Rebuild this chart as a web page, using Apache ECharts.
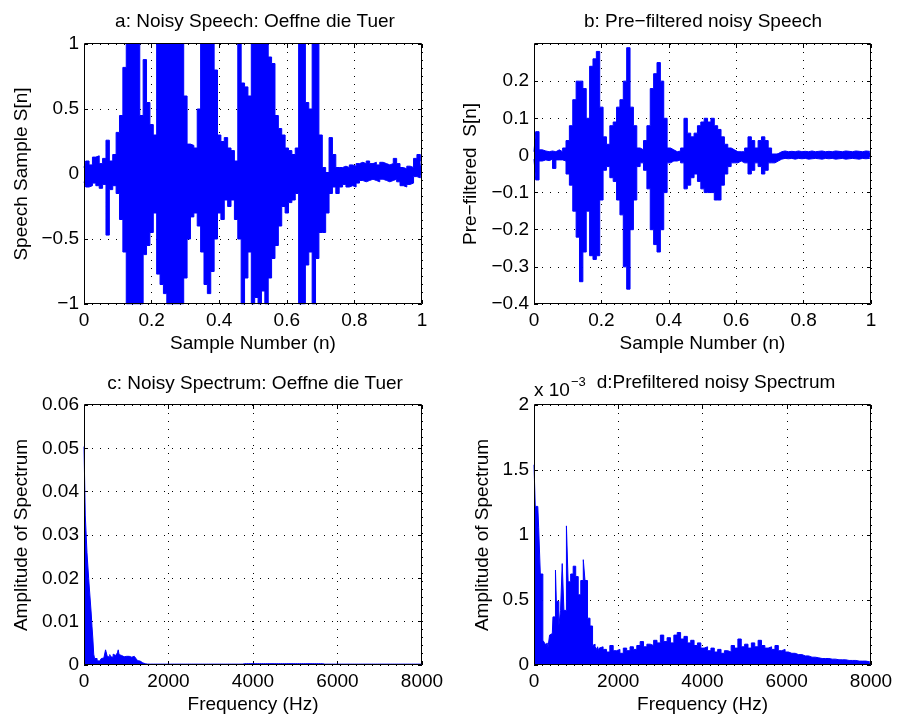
<!DOCTYPE html>
<html>
<head>
<meta charset="utf-8">
<script src="https://cdn.jsdelivr.net/npm/echarts@6/dist/echarts.min.js"></script>
<style>html,body{margin:0;padding:0;background:#fff}#c{width:897px;height:720px}</style>
</head>
<body>
<div id="c"></div>
<script>
// ---------- DATA ----------
// Panel a: noisy speech, upper / lower extremes per 0.01 of normalised sample number (0..1)
const speechA_hi = [0.05,0.10,0.07,0.13,0.14,0.08,0.12,0.26,0.10,0.15,
  0.32,0.45,0.82,1,1,1,1,0.45,0.88,0.55,
  0.38,0.30,1,1,1,1,1,1,1,1,
  0.6,0.23,0.22,0.2,0.5,1,1,1,1,0.8,
  0.3,0.25,0.28,0.2,0.18,0.1,1,0.7,0.67,0.6,
  1,1,1,1,1,0.9,0.85,0.45,0.35,0.3,
  0.2,0.18,0.15,0.2,1,1,0.55,0.5,1,1,
  0.3,0.05,0.0,0.28,0.15,0.05,0.05,0.06,0.05,0.07,
  0.06,0.08,0.09,0.08,0.1,0.08,0.09,0.07,0.09,0.08,
  0.07,0.08,0.12,0.08,0.05,0.04,0.06,0.05,0.12,0.15,
  0.1];
const speechA_lo = [-0.06,-0.10,-0.09,-0.07,-0.09,-0.11,-0.08,-0.47,-0.12,-0.09,
  -0.15,-0.35,-0.6,-1,-1,-1,-1,-1,-0.62,-0.55,
  -0.45,-0.3,-0.77,-0.85,-0.92,-1,-1,-1,-1,-1,
  -0.8,-0.5,-0.33,-0.3,-0.4,-0.6,-0.85,-0.92,-0.75,-0.5,
  -0.3,-0.35,-0.2,-0.25,-0.2,-0.35,-0.5,-1,-0.8,-0.6,
  -1,-0.95,-1,-0.9,-1,-0.8,-0.65,-0.55,-0.4,-0.25,
  -0.3,-0.22,-0.2,-0.15,-1,-1,-0.7,-0.6,-1,-0.65,
  -0.45,-0.45,-0.3,-0.15,-0.1,-0.15,-0.1,-0.08,-0.1,-0.09,
  -0.1,-0.07,-0.05,-0.06,-0.05,-0.04,-0.05,-0.06,-0.04,-0.05,
  -0.06,-0.05,-0.04,-0.06,-0.09,-0.1,-0.08,-0.07,-0.02,-0.03,
  0.0];
// Panel b: pre-filtered speech, upper / lower extremes per 0.01
const speechB_hi = [0.01,0.064,0.015,0.012,0.01,0.012,0.01,0.015,0.01,0.02,
  0.04,0.08,0.15,0.2,0.2,0.18,0.1,0.24,0.26,0.28,
  0.13,0.05,0.03,0.08,0.09,0.13,0.15,0.2,0.29,0.13,
  0.08,0.02,0.015,0.04,0.08,0.18,0.22,0.25,0.2,0.1,
  0.02,0.015,0.01,0.012,0.02,0.1,0.06,0.05,0.06,0.08,
  0.09,0.1,0.09,0.1,0.08,0.07,0.05,0.03,0.02,0.015,
  0.01,0.01,0.01,0.02,0.05,0.04,0.02,0.04,0.05,0.04,
  0.02,0.0,0.005,0.01,0.012,0.01,0.011,0.01,0.012,0.01,
  0.011,0.01,0.012,0.01,0.011,0.012,0.01,0.011,0.01,0.012,
  0.011,0.01,0.012,0.011,0.01,0.012,0.011,0.01,0.012,0.011,
  0.01];
const speechB_lo = [-0.01,-0.066,-0.015,-0.012,-0.014,-0.01,-0.035,-0.012,-0.012,-0.015,
  -0.05,-0.08,-0.15,-0.22,-0.34,-0.26,-0.15,-0.27,-0.28,-0.27,
  -0.12,-0.04,-0.03,-0.06,-0.07,-0.12,-0.16,-0.3,-0.36,-0.2,
  -0.12,-0.03,-0.02,-0.04,-0.09,-0.2,-0.24,-0.26,-0.2,-0.1,
  -0.02,-0.015,-0.015,-0.012,-0.02,-0.09,-0.08,-0.06,-0.05,-0.07,
  -0.09,-0.1,-0.1,-0.1,-0.12,-0.12,-0.08,-0.05,-0.03,-0.02,
  -0.02,-0.015,-0.02,-0.02,-0.05,-0.04,-0.02,-0.03,-0.05,-0.04,
  -0.02,-0.02,-0.015,-0.01,-0.008,-0.009,-0.008,-0.01,-0.008,-0.009,
  -0.008,-0.01,-0.009,-0.008,-0.009,-0.01,-0.008,-0.009,-0.008,-0.01,
  -0.009,-0.008,-0.01,-0.009,-0.008,-0.009,-0.01,-0.008,-0.009,-0.008,
  -0.008];
// Panel c: noisy spectrum amplitude; 0..1600 Hz every 20 Hz, then 1700..8000 Hz every 100 Hz
const specC_lowF = [0.0504,0.0504,0.0346,0.0346,0.026,0.026,0.020,0.0173,0.0173,0.012,
  0.0088,0.006,0.0025,0.0015,0.0012,0.0015,0.0010,0.0012,0.0009,0.0013,
  0.0011,0.0015,0.0012,0.0016,0.0014,0.0018,0.0035,0.0032,0.0020,0.0022,
  0.0018,0.0024,0.0019,0.0021,0.0018,0.0025,0.0028,0.0022,0.0019,0.0021,
  0.0028,0.0035,0.0024,0.0020,0.0022,0.0021,0.0023,0.0019,0.0022,0.0021,
  0.0020,0.0022,0.0018,0.0020,0.0019,0.0017,0.0018,0.0016,0.0019,0.0020,
  0.0018,0.0017,0.0015,0.0012,0.0010,0.0010,0.0009,0.0008,0.0006,0.0005,
  0.0004,0.0003,0.0003,0.0002,0.0002,0.0002,0.0002,0.0002,0.0002,0.0002,
  0.0002];
const specC_highF = [0.0002,0.0002,0.0002,0.0002,0.0002,0.0002,0.0002,0.0002,0.0002,0.0002,
  0.0002,0.0002,0.0002,0.0002,0.0002,0.0002,0.0002,0.0002,0.0002,0.0002,
  0.0002,0.0003,0.0003,0.0003,0.0003,0.0003,0.0003,0.0003,0.0003,0.0003,
  0.0003,0.0003,0.0003,0.0003,0.0003,0.0003,0.0003,0.0003,0.0003,0.0003,
  0.0002,0.0002,0.0002,0.0002,0.0002,0.0002,0.0002,0.0002,0.0002,0.0002,
  0.0002,0.0002,0.0002,0.0002,0.0002,0.0002,0.0002,0.0002,0.0002,0.0002,
  0.0002,0.0002,0.0002,0.0002];
// Panel d: pre-filtered spectrum amplitude in units of 1e-3; 0..1600 Hz every 20 Hz, 1680..8000 Hz every 80 Hz
const specD_lowF = [1.54,1.54,1.22,1.22,1.22,1.22,1.06,1.06,0.70,0.70,
  0.70,0.19,0.19,0.17,0.17,0.15,0.17,0.13,0.13,0.23,
  0.22,0.24,0.20,0.37,0.37,0.37,0.73,0.49,0.49,0.49,
  0.30,0.30,0.42,0.42,0.78,0.78,0.42,0.42,0.42,1.07,
  1.07,0.64,0.64,0.64,0.70,0.70,0.70,0.76,0.76,0.76,
  0.68,0.68,0.68,0.54,0.54,0.54,0.65,0.65,0.65,0.81,
  0.81,0.65,0.65,0.65,0.36,0.36,0.36,0.30,0.30,0.30,
  0.15,0.15,0.16,0.14,0.15,0.12,0.14,0.11,0.13,0.12,
  0.14];
const specD_highF = [0.12,0.10,0.15,0.11,
  0.12,0.09,0.13,0.11,0.14,0.12,0.15,0.18,0.14,0.16,0.15,0.19,0.17,
  0.23,0.18,0.21,0.17,0.23,0.25,0.20,0.22,0.17,0.19,0.15,0.17,
  0.13,0.14,0.11,0.13,0.10,0.12,0.09,0.11,0.10,0.15,0.13,0.20,0.14,
  0.16,0.13,0.17,0.14,0.19,0.15,0.13,0.14,0.12,0.15,0.11,0.12,
  0.10,0.09,0.09,0.08,0.08,0.07,0.07,0.06,0.06,0.055,0.05,0.05,0.05,
  0.045,0.045,0.04,0.04,0.04,0.035,0.035,0.035,0.03,0.03,0.03,0.025,
  0.025];
// Tick values
const sampleTicks = [0,0.2,0.4,0.6,0.8,1];
const freqTicks = [0,2000,4000,6000,8000];

// ---------- BUILD ----------
const FONT = 'Liberation Sans, Helvetica, Arial, sans-serif';
const FS = 19;
const BLUE = '#0000ff';

function indexed(arr) {
  const n = arr.length, dx = 1 / (n - 1);
  return arr.map((v, i) => [i * dx, v]);
}
function spectrum(low, lowStep, high, highStart, highStep) {
  const out = [];
  low.forEach((v, i) => out.push([i * lowStep, v]));
  high.forEach((v, i) => out.push([highStart + i * highStep, v]));
  return out;
}
function fmt(v) {
  const a = +Math.abs(v).toFixed(4);
  return (v < 0 ? '\u2212' : '') + a;
}

const boxes = [
  {left: 84, top: 44, width: 338, height: 260},
  {left: 534, top: 44, width: 337, height: 260},
  {left: 84, top: 405, width: 338, height: 260},
  {left: 534, top: 405, width: 337, height: 260}
];
const grids = boxes.map(g => Object.assign({}, g, {show: false, containLabel: false}));

const dotted = {show: true, lineStyle: {color: '#000', width: 1, type: [1, 7]}};
const txt = {color: '#000', fontFamily: FONT, fontSize: FS};
const tick = {show: true, inside: true, length: 4, lineStyle: {color: '#000'}};
const noLine = {show: false, onZero: false};

function xPair(gi, min, max, interval, name, nameGap) {
  return [
    {type: 'value', gridIndex: gi, min, max, interval, position: 'bottom',
     name, nameLocation: 'middle', nameGap, nameTextStyle: txt,
     axisLine: noLine, axisTick: tick,
     axisLabel: Object.assign({margin: 7, formatter: fmt, showMinLabel: true, showMaxLabel: true}, txt),
     splitLine: dotted},
    {type: 'value', gridIndex: gi, min, max, interval, position: 'top',
     axisLine: noLine, axisLabel: {show: false}, splitLine: {show: false}, axisTick: tick}
  ];
}
function yPair(gi, min, max, interval, name, nameGap, labelFmt) {
  return [
    {type: 'value', gridIndex: gi, min, max, interval, position: 'left',
     name, nameLocation: 'middle', nameGap, nameTextStyle: txt,
     axisLine: noLine, axisTick: tick,
     axisLabel: Object.assign({margin: 5, formatter: labelFmt || fmt, showMinLabel: true, showMaxLabel: true}, txt),
     splitLine: dotted},
    {type: 'value', gridIndex: gi, min, max, interval, position: 'right',
     axisLine: noLine, axisLabel: {show: false}, splitLine: {show: false}, axisTick: tick}
  ];
}

const xAxes = [].concat(
  xPair(0, sampleTicks[0], sampleTicks[sampleTicks.length - 1], 0.2, 'Sample Number (n)', 30),
  xPair(1, sampleTicks[0], sampleTicks[sampleTicks.length - 1], 0.2, 'Sample Number (n)', 30),
  xPair(2, freqTicks[0], freqTicks[freqTicks.length - 1], 2000, 'Frequency (Hz)', 30),
  xPair(3, freqTicks[0], freqTicks[freqTicks.length - 1], 2000, 'Frequency (Hz)', 30)
);
const yAxes = [].concat(
  yPair(0, -1, 1, 0.5, 'Speech Sample S[n]', 53),
  yPair(1, -0.4, 0.3, 0.1, 'Pre\u2212filtered  S[n]', 54, v => (Math.abs(v - 0.3) < 1e-9 ? '' : fmt(v))),
  yPair(2, 0, 0.06, 0.01, 'Amplitude of Spectrum', 53),
  yPair(3, 0, 2, 0.5, 'Amplitude of Spectrum', 42)
);

const base = {type: 'line', symbol: 'none', clip: true, animation: false, silent: true, z: 3};
// upper envelope filled down to 0, lower envelope filled up to slightly above 0 (overlap hides the seam)
const envelope = (k, data, origin, extra) => Object.assign({}, base, {
  xAxisIndex: 2 * k, yAxisIndex: 2 * k, data,
  lineStyle: {color: BLUE, width: 1},
  areaStyle: {color: BLUE, opacity: 1, origin}
}, extra || {});

const series = [
  envelope(0, indexed(speechA_hi), 0, {step: 'middle'}),
  envelope(0, indexed(speechA_lo), 0.015, {step: 'middle'}),
  envelope(1, indexed(speechB_hi), 0, {step: 'middle'}),
  envelope(1, indexed(speechB_lo), 0.005, {step: 'middle'}),
  envelope(2, spectrum(specC_lowF, 20, specC_highF, 1700, 100), 0, {step: 'middle'}),
  envelope(3, spectrum(specD_lowF, 20, specD_highF, 1680, 80), 0, {step: 'middle'})
];

const T = (text, x, y, extra) => ({type: 'text', x, y, z: 20, style: Object.assign({
  text, fill: '#000', font: FS + 'px ' + FONT, textAlign: 'center', textVerticalAlign: 'middle'}, extra || {})});

const frames = boxes.map(b => ({type: 'rect', z: 20, silent: true,
  shape: {x: b.left + 0.5, y: b.top - 0.5, width: b.width - 1, height: b.height},
  style: {fill: null, stroke: '#000', lineWidth: 1}}));

const graphic = frames.concat([
  T('a: Noisy Speech: Oeffne die Tuer', 255, 22),
  T('b: Pre\u2212filtered noisy Speech', 703, 22),
  T('c: Noisy Spectrum: Oeffne die Tuer', 255, 384),
  T('d:Prefiltered noisy Spectrum', 716, 383),
  T('x 10', 534, 391, {textAlign: 'left'}),
  T('\u22123', 571, 382, {textAlign: 'left', font: '13px ' + FONT})
]);

const chart = echarts.init(document.getElementById('c'), null, {renderer: 'canvas'});
chart.setOption({
  backgroundColor: '#fff',
  animation: false,
  grid: grids,
  xAxis: xAxes,
  yAxis: yAxes,
  series,
  graphic
});
</script>
</body>
</html>
